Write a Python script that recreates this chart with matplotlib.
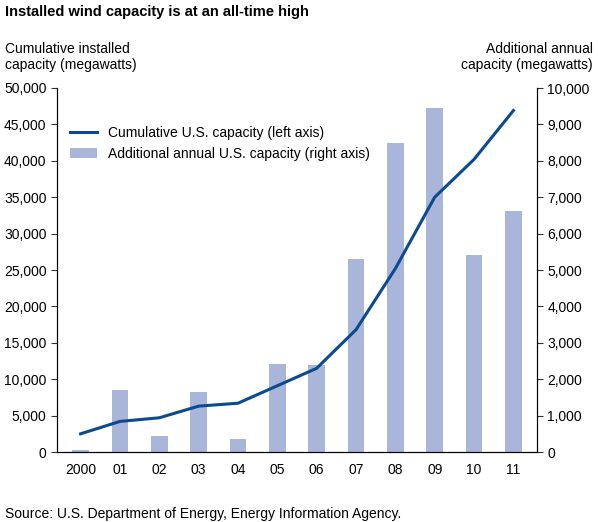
import matplotlib
matplotlib.use("Agg")
import matplotlib.pyplot as plt

years = ["2000", "01", "02", "03", "04", "05", "06", "07", "08", "09", "10", "11"]
cumulative = [2500, 4200, 4700, 6300, 6700, 9100, 11500, 16800, 25200, 35000, 40200, 46900]
annual = [60, 1700, 430, 1650, 370, 2430, 2400, 5300, 8500, 9450, 5400, 6620]

plt.rcParams['font.family'] = ['Liberation Sans', 'DejaVu Sans']
fig = plt.figure(figsize=(5.98, 5.22), dpi=100)
ax = fig.add_axes([57 / 598, 70 / 522, 480 / 598, 364 / 522])
ax2 = ax.twinx()
x = list(range(len(years)))
ax2.bar(x, annual, width=0.42, color="#a9b5d9", label="Additional annual U.S. capacity (right axis)")
ax.plot(x, cumulative, color="#0b4a8f", lw=2.2, label="Cumulative U.S. capacity (left axis)")
ax.set_zorder(ax2.get_zorder() + 1)
ax.patch.set_visible(False)

ax.set_ylim(0, 50000)
ax2.set_ylim(0, 10000)
ax.set_xlim(-0.6, 11.6)
ax.set_yticks(range(0, 50001, 5000))
ax.set_yticklabels([f"{v:,}" for v in range(0, 50001, 5000)])
ax2.set_yticks(range(0, 10001, 1000))
ax2.set_yticklabels([f"{v:,}" for v in range(0, 10001, 1000)])
ax.set_xticks(x)
ax.set_xticklabels(years)
for a in (ax, ax2):
    a.spines['top'].set_visible(False)
    a.tick_params(labelsize=10, color="#333333", length=4)
ax.tick_params(axis='x', length=0, pad=8)

h1, l1 = ax.get_legend_handles_labels()
h2, l2 = ax2.get_legend_handles_labels()
ax.legend(h1 + h2, l1 + l2, loc="upper left", bbox_to_anchor=(0.0, 0.93), frameon=False, fontsize=10)

fig.text(5 / 598, 1 - 12 / 522, "Installed wind capacity is at an all-time high", fontsize=10.5, fontweight="bold", va="center")
fig.text(5 / 598, 1 - 57 / 522, "Cumulative installed\ncapacity (megawatts)", fontsize=10, va="center")
fig.text(593 / 598, 1 - 57 / 522, "Additional annual\ncapacity (megawatts)", fontsize=10, va="center", ha="right")
fig.text(5 / 598, 1 - 514 / 522, "Source: U.S. Department of Energy, Energy Information Agency.", fontsize=10, va="center")
fig.savefig("out.png", dpi=100)
